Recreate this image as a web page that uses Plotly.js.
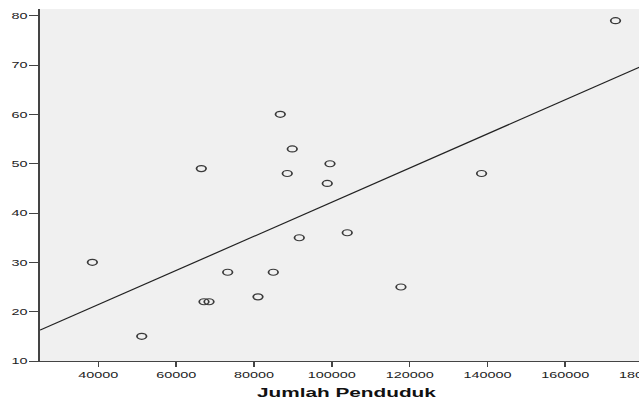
<!DOCTYPE html>
<html>
<head>
<meta charset="utf-8">
<script src="https://cdn.plot.ly/plotly-3.0.1.min.js"></script>
<style>
  html, body { margin: 0; padding: 0; overflow: hidden; background: #ffffff; }
  #wrap { width: 639px; height: 402px; overflow: hidden; position: relative; }
  #chart { width: 430px; height: 402px; transform: scaleX(1.6); transform-origin: 0 0; }
</style>
</head>
<body>
<div id="wrap"><div id="chart"></div></div>
<script>
// Data
const jumlahPenduduk = [38459, 51150, 66460, 67155, 68440, 73240, 81030, 84960, 86760,
                        88550, 89840, 91640, 98830, 99530, 103970, 117770, 138490, 172920];
const nilaiY = [30, 15, 49, 22, 22, 28, 23, 28, 60, 48, 53, 35, 46, 50, 36, 25, 48, 79];
const xTickVals = [40000, 60000, 80000, 100000, 120000, 140000, 160000, 180000];
const yTickVals = [10, 20, 30, 40, 50, 60, 70, 80];
const xRange = [25000, 182500];
const yRange = [10, 81.36];
const xTitle = 'Jumlah Penduduk';

// Ordinary least-squares fit line (as SPSS "Fit Line at Total")
const n = jumlahPenduduk.length;
const mx = jumlahPenduduk.reduce((a, b) => a + b, 0) / n;
const my = nilaiY.reduce((a, b) => a + b, 0) / n;
let sxy = 0, sxx = 0;
for (let i = 0; i < n; i++) {
  sxy += (jumlahPenduduk[i] - mx) * (nilaiY[i] - my);
  sxx += (jumlahPenduduk[i] - mx) ** 2;
}
const slope = sxy / sxx;
const intercept = my - slope * mx;
const fitX = [xRange[0], xRange[1]];
const fitY = fitX.map(x => intercept + slope * x);

const font = { family: 'Liberation Sans, Arial, sans-serif', size: 9, color: '#222222' };

const traces = [
  {
    type: 'scatter', mode: 'lines', x: fitX, y: fitY,
    line: { color: '#222222', width: 1.1 }, hoverinfo: 'skip', showlegend: false
  },
  {
    type: 'scatter', mode: 'markers', x: jumlahPenduduk, y: nilaiY,
    marker: { symbol: 'circle-open', size: 6, color: '#3a3a3a', line: { width: 1.1, color: '#3a3a3a' } },
    showlegend: false
  }
];

const layout = {
  width: 430, height: 402,
  margin: { l: 25, r: 22, t: 9, b: 41, pad: 0 },
  paper_bgcolor: '#ffffff',
  plot_bgcolor: '#f0f0f0',
  font: font,
  showlegend: false,
  xaxis: {
    range: xRange, tickvals: xTickVals, ticktext: xTickVals.map(String),
    showgrid: false, zeroline: false,
    showline: true, linecolor: '#444444', linewidth: 1.2,
    ticks: 'outside', ticklen: 5, tickwidth: 1, tickcolor: '#444444',
    tickfont: font, automargin: false,
    title: { text: xTitle, font: { family: 'Liberation Sans, Arial, sans-serif', size: 13, color: '#111111', weight: 'bold' }, standoff: 9 }
  },
  yaxis: {
    range: yRange, tickvals: yTickVals, ticktext: yTickVals.map(String),
    showgrid: false, zeroline: false,
    showline: true, linecolor: '#444444', linewidth: 1,
    ticks: 'outside', ticklen: 6, tickwidth: 1, tickcolor: '#444444',
    tickfont: font, automargin: false, ticklabelstandoff: -1
  }
};

Plotly.newPlot('chart', traces, layout, { staticPlot: true, displayModeBar: false });
</script>
</body>
</html>
